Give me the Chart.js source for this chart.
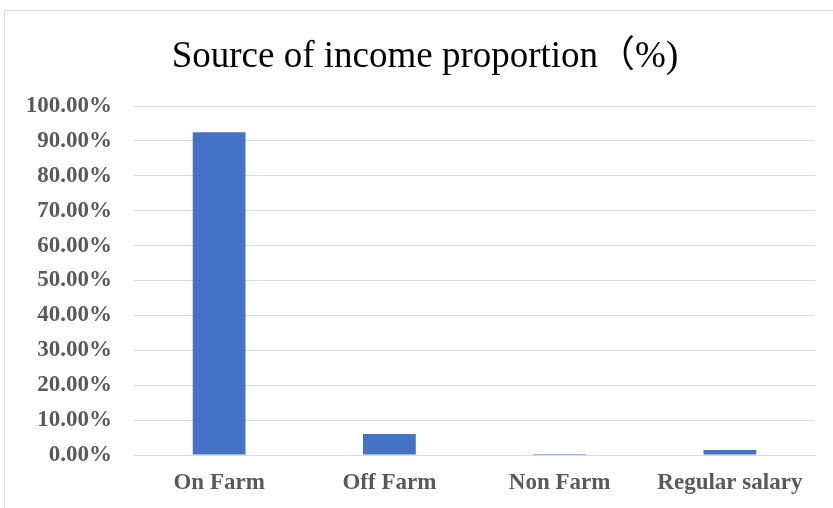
<!DOCTYPE html>
<html>
<head>
<meta charset="utf-8">
<script src="https://cdn.jsdelivr.net/npm/chart.js@4"></script>
<style>
  body { margin: 0; background: #fff; }
  #frame { position: absolute; left: 4px; top: 10px; width: 900px; height: 600px; border-left: 1px solid #d9d9d9; border-top: 1px solid #d9d9d9; }
  #wrap { position: absolute; left: 0; top: 0; width: 833px; height: 508px; }
  #title { position: absolute; left: 17px; width: 816px; top: 33px; text-align: center; font: 37px 'Liberation Serif', 'Times New Roman', 'Noto Sans CJK SC', serif; color: #000; line-height: 44px; white-space: nowrap; }
</style>
</head>
<body>
<div id="frame"></div>
<div id="wrap"><canvas id="chart"></canvas></div>
<div id="title">Source of income proportion（%)</div>
<script>
//Categories and values (%)
const categories = ["On Farm", "Off Farm", "Non Farm", "Regular salary"];
const incomeShare = [92.5, 6.0, 0.3, 1.4];
const yTicks = [0, 10, 20, 30, 40, 50, 60, 70, 80, 90, 100];

const labelColor = "#595959";
const serif = "'Liberation Serif', 'Times New Roman', serif";

new Chart(document.getElementById("chart"), {
  type: "bar",
  data: {
    labels: categories,
    datasets: [
      {
        data: incomeShare,
        backgroundColor: "#4472C4",
        barPercentage: 0.31,
        categoryPercentage: 1,
      },
    ],
  },
  options: {
    responsive: true,
    maintainAspectRatio: false,
    animation: false,
    layout: { padding: { left: 0, right: 18, top: 106, bottom: 0 } },
    plugins: {
      legend: { display: false },
      tooltip: { enabled: false },
      title: { display: false },
    },
    scales: {
      x: {
        grid: { display: false, drawTicks: false },
        border: { display: true, color: "#d9d9d9", width: 1 },
        ticks: {
          color: labelColor,
          padding: 14,
          maxRotation: 0,
          font: { family: serif, size: 23, weight: "bold" },
        },
        afterFit: (scale) => { scale.height = 53; },
      },
      y: {
        min: 0,
        max: 100,
        grid: { color: "#d9d9d9", drawTicks: false },
        border: { display: false },
        afterBuildTicks: (scale) => { scale.ticks = yTicks.map((v) => ({ value: v })); },
        ticks: {
          color: labelColor,
          padding: 22,
          font: { family: serif, size: 23, weight: "bold" },
          callback: (v) => v.toFixed(2) + "%",
        },
        afterFit: (scale) => { scale.width = 134; },
      },
    },
  },
});
</script>
</body>
</html>
